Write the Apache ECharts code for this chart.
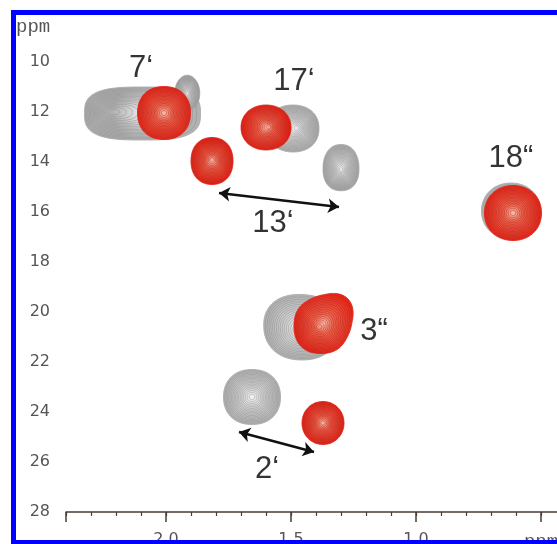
<!DOCTYPE html>
<html><head><meta charset="utf-8">
<script src="https://cdn.jsdelivr.net/npm/echarts@6/dist/echarts.min.js"></script>
<style>html,body{margin:0;padding:0;background:#fff}#c{width:557px;height:544px}</style>
</head><body><div id="c"></div>
<script>
// ---- data (ppm) ----
const xTickLabels = ['2.0', '1.5', '1.0', 'ppm'];
const xTickValues = [2.0, 1.5, 1.0, 0.5];
const yTickValues = [10, 12, 14, 16, 18, 20, 22, 24, 26, 28];

// reference (grey) spectrum peaks
const grayX  = [2.22, 1.915, 1.476, 1.30, 0.62, 1.456, 1.656];
const grayY  = [12.0, 11.25, 12.64, 14.32, 15.96, 20.72, 23.4];
const grayRx = [0.232, 0.05, 0.104, 0.072, 0.118, 0.15, 0.114];
const grayRy = [1.06, 0.72, 0.94, 0.88, 1.12, 1.3, 1.1];
const grayDx = [-0.126, 0.0, 0.016, 0.0, 0.0, 0.0, 0.0];
const grayDy = [0.06, 0.0, 0.02, -0.05, 0.0, -0.1, 0.0];
const grayShape = [3.0, 2.0, 2.2, 2.3, 2.1, 2.2, 2.2];

// compound (red) spectrum peaks
const redX  = [2.008, 1.816, 1.588, 0.612, 1.388, 1.372];
const redY  = [12.04, 13.9, 12.6, 16.04, 20.6, 24.44];
const redRx = [0.106, 0.084, 0.1, 0.114, 0.108, 0.084];
const redRy = [1.06, 0.94, 0.9, 1.1, 1.1, 0.86];
const redDx = [0.0, 0.0, 0.012, 0.0, -0.008, 0.0];
const redDy = [0.0, 0.06, 0.02, 0.0, -0.04, 0.0];
const redShape = [2.2, 2.2, 2.1, 2.1, 2.3, 2.05];

// shape asymmetry (bulge amount, screen angle in rad)
const grayBulge = [0, 0, 0, 0.1, 0, 0.05, 0];
const grayBulgeAng = [0, 0, 0, -1.57, 0, -2.4, 0];
const redBulge = [0, 0, 0, 0, 0.34, 0];
const redBulgeAng = [0, 0, 0, 0, -0.78, 0];

// annotations
const labelText = ['7‘', '17‘', '13‘', '18“', '3“', '2‘'];
const labelX = [2.10, 1.488, 1.572, 0.62, 1.168, 1.596];
const labelY = [10.24, 10.76, 16.44, 13.84, 20.76, 26.28];

const arrowX1 = [1.788, 1.708];
const arrowY1 = [15.24, 24.8];
const arrowX2 = [1.308, 1.408];
const arrowY2 = [15.8, 25.6];

// ---- build ----
function peaks(X, Y, RX, RY, DX, DY, B, BA, S) {
  return X.map((x, i) => [x, Y[i], RX[i], RY[i], DX[i], DY[i], B[i], BA[i], S[i]]);
}
const N = 18;
function spow(v, e) { return Math.sign(v) * Math.pow(Math.abs(v), e); }
function makeRender(tone) {
  return function (params, api) {
    const x = api.value(0), y = api.value(1), rx = api.value(2), ry = api.value(3);
    const dx = api.value(4), dy = api.value(5), bulge = api.value(6), bang = api.value(7);
    const p = api.value(8);
    const c = api.coord([x, y]);
    const o = api.coord([x + dx, y + dy]);
    const sz = api.size([rx, ry]);
    const sx = Math.abs(sz[0]), sy = Math.abs(sz[1]);
    const children = [];
    for (let k = 0; k < N; k++) {
      const t = Math.pow(1 - k / N, 0.8);
      const cx = c[0] + (o[0] - c[0]) * t, cy = c[1] + (o[1] - c[1]) * t;
      const pe = 2 / (2 + (p - 2) * t);
      const pts = [];
      for (let j = 0; j < 96; j++) {
        const th = j / 96 * Math.PI * 2;
        const b = 1 + bulge * Math.pow(Math.max(0, Math.cos(th - bang)), 3) * t;
        pts.push([cx + sx * t * b * spow(Math.cos(th), pe), cy + sy * t * b * spow(Math.sin(th), pe)]);
      }
      let style;
      if (k === 0) {
        style = {
          fill: new echarts.graphic.RadialGradient(0.5, 0.5, 0.55, tone.grad),
          stroke: tone.edge, lineWidth: 0.8
        };
      } else {
        style = { fill: 'none', stroke: tone.line, lineWidth: 0.6, opacity: tone.op };
      }
      children.push({ type: 'polygon', shape: { points: pts }, style: style });
    }
    return { type: 'group', children: children };
  };
}
const grayTone = {
  grad: [{ offset: 0, color: '#f2f2f2' }, { offset: 0.35, color: '#d6d6d6' }, { offset: 1, color: '#b2b2b2' }],
  edge: '#a4a4a4', line: '#888888', op: 0.8
};
const redTone = {
  grad: [{ offset: 0, color: '#f3c0b0' }, { offset: 0.3, color: '#ec6a52' }, { offset: 1, color: '#e8261a' }],
  edge: '#e21b12', line: '#b5160e', op: 0.75
};

const chart = echarts.init(document.getElementById('c'), null, { renderer: 'canvas' });
const axisColor = '#4a3b33';
const labelFont = { fontFamily: 'DejaVu Sans', fontSize: 16, color: '#555' };

chart.setOption({
  animation: false,
  backgroundColor: '#fff',
  grid: { left: 66, top: 12, width: 600, height: 500, containLabel: false, outerBoundsMode: 'none' },
  xAxis: [{
    type: 'value', inverse: true, min: 0, max: 2.4, interval: 0.5, position: 'bottom',
    axisLine: { show: true, lineStyle: { color: axisColor, width: 1.5 } },
    axisTick: { show: true, length: 10, inside: false, lineStyle: { color: axisColor, width: 1.5 } },
    splitLine: { show: false },
    axisLabel: Object.assign({
      margin: 20,
      formatter: function (v) {
        const i = xTickValues.findIndex(t => Math.abs(t - v) < 1e-6);
        if (i < 0) return '';
        return xTickLabels[i] === 'ppm' ? '{p|ppm}' : xTickLabels[i];
      },
      rich: { p: { fontFamily: 'Liberation Mono', fontSize: 19, color: '#555' } }
    }, labelFont)
  }, {
    // minor ticks every 0.1 ppm, moved onto the bottom axis line
    type: 'value', inverse: true, min: 0, max: 2.4, interval: 0.1, position: 'top', offset: -500,
    axisLine: { show: false },
    axisTick: { show: true, length: 4, inside: true, lineStyle: { color: axisColor, width: 1.2 } },
    axisLabel: { show: false }, splitLine: { show: false }
  }],
  yAxis: [{
    type: 'value', inverse: true, min: 8, max: 28, interval: 2, position: 'left',
    axisLine: { show: true, lineStyle: { color: axisColor, width: 1.5 } },
    axisTick: { show: true, length: 9, inside: false, lineStyle: { color: axisColor, width: 1.5 } },
    minorTick: { show: true, splitNumber: 2, length: 4, lineStyle: { color: axisColor, width: 1.2 } },
    splitLine: { show: false },
    axisLabel: Object.assign({
      margin: 16,
      formatter: function (v) { return yTickValues.indexOf(v) >= 0 ? String(v) : ''; }
    }, labelFont)
  }],
  series: [{
    type: 'custom', xAxisIndex: 0, yAxisIndex: 0, z: 2, clip: false,
    renderItem: makeRender(grayTone),
    data: peaks(grayX, grayY, grayRx, grayRy, grayDx, grayDy, grayBulge, grayBulgeAng, grayShape)
  }, {
    type: 'custom', xAxisIndex: 0, yAxisIndex: 0, z: 3, clip: false,
    renderItem: makeRender(redTone),
    data: peaks(redX, redY, redRx, redRy, redDx, redDy, redBulge, redBulgeAng, redShape)
  }, {
    type: 'lines', coordinateSystem: 'cartesian2d', xAxisIndex: 0, yAxisIndex: 0, z: 4,
    symbol: ['arrow', 'arrow'], symbolSize: [11, 11],
    lineStyle: { color: '#111', width: 2.5, opacity: 1 },
    data: arrowX1.map((x, i) => ({ coords: [[x, arrowY1[i]], [arrowX2[i], arrowY2[i]]] }))
  }, {
    type: 'scatter', xAxisIndex: 0, yAxisIndex: 0, z: 5, symbolSize: 1,
    itemStyle: { color: 'rgba(0,0,0,0)' },
    label: {
      show: true, position: 'inside', formatter: p => p.name,
      fontFamily: 'Liberation Sans', fontSize: 31, color: '#000'
    },
    data: labelText.map((t, i) => ({ name: t, value: [labelX[i], labelY[i]] }))
  }],
  graphic: [
    { type: 'text', left: 16, top: 17, z: 10, style: { text: 'ppm', font: '19px "Liberation Mono"', fill: '#555' } },
    { type: 'rect', z: 20, shape: { x: 11, y: 10, width: 560, height: 5 }, style: { fill: '#0000ff' } },
    { type: 'rect', z: 20, shape: { x: 11, y: 10, width: 5, height: 540 }, style: { fill: '#0000ff' } },
    { type: 'rect', z: 20, shape: { x: 11, y: 540, width: 560, height: 4 }, style: { fill: '#0000ff' } }
  ]
});
</script>
</body></html>
